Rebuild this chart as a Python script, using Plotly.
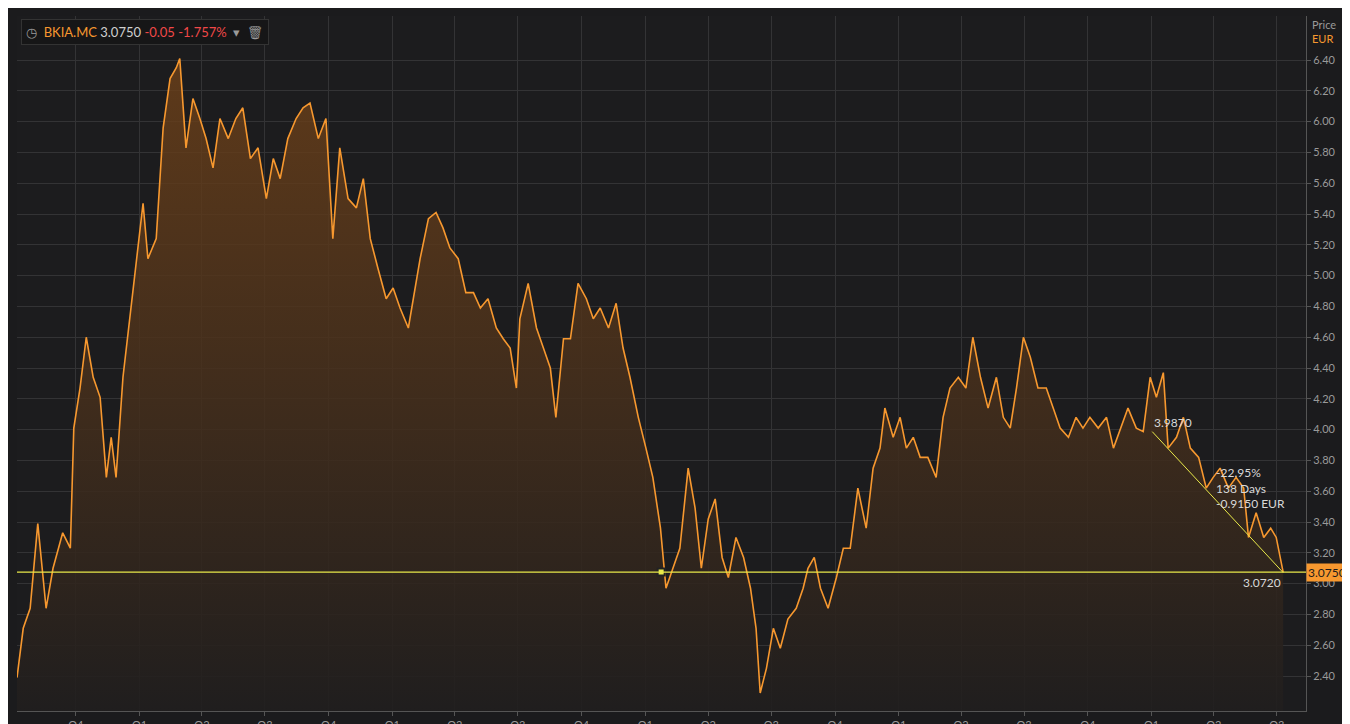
import plotly.graph_objects as go
import pandas as pd

start_date = "2013-07-08"
day_offsets = [0,9,19,30,42,52,66,77,82,91,100,110,120,129,136,143,153,163,172,182,189,201,211,221,230,235,244,254,264,273,283,293,305,316,326,337,348,360,370,380,391,403,413,423,435,446,456,466,478,490,500,510,521,533,543,553,565,572,582,594,605,615,625,637,648,659,669,680,692,702,712,721,726,738,750,760,770,778,789,799,810,822,832,842,854,865,875,885,897,908,918,929,937,947,957,969,979,988,998,1008,1018,1027,1038,1049,1059,1067,1073,1082,1092,1102,1113,1125,1135,1142,1151,1160,1171,1183,1193,1203,1214,1226,1236,1246,1253,1265,1275,1284,1294,1304,1315,1327,1337,1347,1359,1370,1380,1391,1402,1414,1424,1434,1443,1453,1463,1474,1486,1496,1506,1518,1529,1539,1549,1561,1573,1583,1593,1604,1616,1626,1636,1645,1655,1662,1674,1684,1694,1706,1717,1727,1737,1749,1760,1771,1778,1789,1800,1810,1818,1828]
prices = [2.39,2.71,2.84,3.39,2.84,3.10,3.33,3.23,4.01,4.27,4.60,4.34,4.21,3.69,3.95,3.69,4.34,4.72,5.05,5.47,5.11,5.24,5.96,6.28,6.35,6.41,5.83,6.15,6.02,5.89,5.70,6.02,5.89,6.02,6.09,5.76,5.83,5.50,5.76,5.63,5.89,6.02,6.09,6.12,5.89,6.02,5.24,5.83,5.50,5.44,5.63,5.24,5.05,4.85,4.92,4.79,4.66,4.85,5.11,5.37,5.41,5.31,5.18,5.11,4.89,4.89,4.79,4.85,4.66,4.59,4.53,4.27,4.72,4.95,4.66,4.53,4.40,4.08,4.59,4.59,4.95,4.85,4.72,4.79,4.66,4.82,4.53,4.34,4.08,3.88,3.69,3.36,2.97,3.10,3.23,3.75,3.49,3.10,3.42,3.55,3.17,3.04,3.30,3.17,2.97,2.71,2.29,2.45,2.71,2.58,2.77,2.84,2.97,3.10,3.17,2.97,2.84,3.04,3.23,3.23,3.62,3.36,3.75,3.88,4.14,3.95,4.08,3.88,3.95,3.82,3.82,3.69,4.08,4.27,4.34,4.27,4.60,4.34,4.14,4.34,4.08,4.01,4.27,4.60,4.47,4.27,4.27,4.14,4.01,3.95,4.08,4.01,4.08,4.01,4.08,3.88,4.01,4.14,4.01,3.987,4.34,4.21,4.37,3.88,3.95,4.08,3.88,3.82,3.62,3.69,3.75,3.62,3.69,3.62,3.30,3.46,3.30,3.36,3.30,3.075]
tick_dates = ["2013-10-01","2014-01-01","2014-04-01","2014-07-01","2014-10-01","2015-01-01","2015-04-01","2015-07-01","2015-10-01","2016-01-01","2016-04-01","2016-07-01","2016-10-01","2017-01-01","2017-04-01","2017-07-01","2017-10-01","2018-01-01","2018-04-01","2018-07-01"]
tick_labels = ["Q4<br>2013","Q1","Q2","Q3<br>2014","Q4","Q1","Q2","Q3<br>2015","Q4","Q1","Q2","Q3<br>2016","Q4","Q1","Q2","Q3<br>2017","Q4","Q1","Q2","Q3<br>2018"]
y_ticks = [2.4+0.2*i for i in range(21)]
last_price = 3.075
trend_start = ("2018-01-02", 3.987)
trend_end_price = 3.072
marker_date = "2016-01-24"

dates = pd.to_datetime(start_date) + pd.to_timedelta(day_offsets, unit="D")
end_date = dates[-1]

fig = go.Figure()
fig.add_trace(go.Scatter(
    x=dates, y=prices, mode="lines", line=dict(color="#f7982f", width=1.6),
    fill="tozeroy",
    fillgradient=dict(type="vertical", start=2.17, stop=6.4,
                      colorscale=[[0, "rgba(32,30,30,0.9)"], [1, "rgba(110,65,25,0.8)"]]),
    hoverinfo="skip", showlegend=False))
fig.add_trace(go.Scatter(x=[trend_start[0], end_date], y=[trend_start[1], trend_end_price],
                         mode="lines", line=dict(color="#e8e84a", width=1), showlegend=False))
fig.add_trace(go.Scatter(x=[marker_date], y=[last_price], mode="markers",
                         marker=dict(symbol="square", size=7, color="#e8e84a",
                                     line=dict(color="#222", width=2)), showlegend=False))
fig.add_hline(y=last_price, line=dict(color="#e8e84a", width=1.2))

fig.update_layout(
    width=1350, height=724,
    paper_bgcolor="#1b1b1d", plot_bgcolor="#1c1c1e",
    margin=dict(l=9, r=52, t=8, b=21, autoexpand=False),
    font=dict(family="Lato, sans-serif", color="#9a9a9a", size=11),
    xaxis=dict(type="date", range=[dates[0], pd.Timestamp("2018-08-12")],
               tickvals=tick_dates, ticktext=tick_labels, showgrid=True,
               gridcolor="#333335", ticks="outside", ticklen=4, tickcolor="#555",
               showline=True, linecolor="#555", zeroline=False),
    yaxis=dict(side="right", range=[2.173, 6.686], tickvals=y_ticks,
               ticktext=[f"{v:.2f}" for v in y_ticks], gridcolor="#333335",
               ticks="outside", ticklen=4, tickcolor="#555", showline=True,
               linecolor="#555", zeroline=False),
)
ann = [
    dict(xref="paper", yref="paper", x=0.003, y=0.995, xanchor="left", yanchor="top",
         text="◷  <span style='color:#f7982f'>BKIA.MC</span> <span style='color:#cfcfcf'>3.0750</span> <span style='color:#f04848'>-0.05 -1.757%</span>  ▾  🗑",
         showarrow=False, font=dict(size=13), bgcolor="#161617", bordercolor="#333", borderpad=4),
    dict(xref="paper", yref="paper", x=1.003, y=1.0, xanchor="left", yanchor="top",
         text="Price<br><span style='color:#f7982f'>EUR</span>", showarrow=False, align="left",
         font=dict(size=11)),
    dict(xref="paper", yref="y", x=1.0, y=last_price, xanchor="left", yanchor="middle",
         text="3.0750", showarrow=False, bgcolor="#f7982f", font=dict(color="#1b1b1d", size=12)),
    dict(x=trend_start[0], y=trend_start[1], text="3.9870", xanchor="left", yanchor="bottom",
         showarrow=False, font=dict(color="#d8d8d8", size=12)),
    dict(x="2018-04-01", y=3.62, text="-22.95%<br>138 Days<br>-0.9150 EUR", xanchor="left",
         yanchor="middle", align="left", showarrow=False, font=dict(color="#d8d8d8", size=12)),
    dict(x=end_date, y=trend_end_price, text="3.0720", xanchor="right", yanchor="top",
         showarrow=False, font=dict(color="#d8d8d8", size=12)),
]
fig.update_layout(annotations=ann)
fig.write_html("out.html")
